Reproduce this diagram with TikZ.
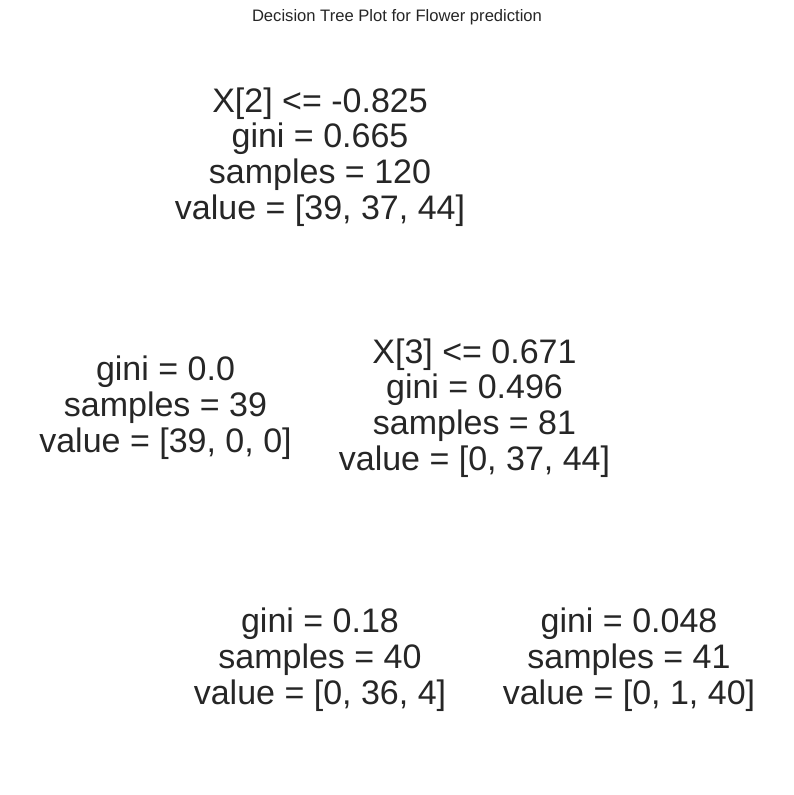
\documentclass[tikz,border=0pt]{standalone}
\usepackage{fontspec}
\setmainfont{Liberation Sans}
\definecolor{txt}{HTML}{262626}
\begin{document}
\begin{tikzpicture}[x=1pt,y=-1pt,
  treenode/.style={align=center,inner sep=0pt,text=txt,font=\fontsize{34}{35.8}\selectfont},
  titlenode/.style={inner sep=0pt,text=txt,font=\fontsize{16.6}{18}\selectfont}]
\useasboundingbox[fill=white] (0,0) rectangle (794,795);
\node[titlenode] (title) at (397,17) {Decision Tree Plot for Flower prediction};
\node[treenode] (root) at (320,157) {X[2] <= -0.825\\gini = 0.665\\samples = 120\\value = [39, 37, 44]};
\node[treenode] (left) at (165.5,408) {gini = 0.0\\samples = 39\\value = [39, 0, 0]};
\node[treenode] (right) at (474.5,408) {X[3] <= 0.671\\gini = 0.496\\samples = 81\\value = [0, 37, 44]};
\node[treenode] (rl) at (320,660) {gini = 0.18\\samples = 40\\value = [0, 36, 4]};
\node[treenode] (rr) at (629,660) {gini = 0.048\\samples = 41\\value = [0, 1, 40]};
\end{tikzpicture}
\end{document}
